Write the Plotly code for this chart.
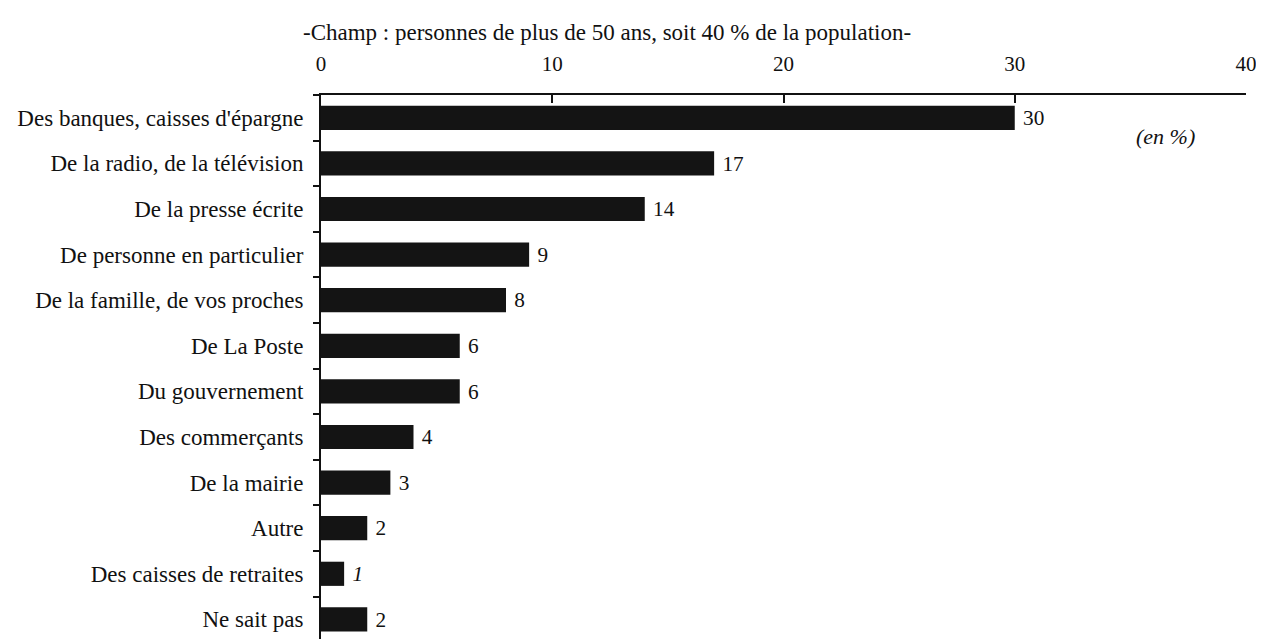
import plotly.graph_objects as go

categories = [
    "Des banques, caisses d'épargne",
    "De la radio, de la télévision",
    "De la presse écrite",
    "De personne en particulier",
    "De la famille, de vos proches",
    "De La Poste",
    "Du gouvernement",
    "Des commerçants",
    "De la mairie",
    "Autre",
    "Des caisses de retraites",
    "Ne sait pas",
]
values = [30, 17, 14, 9, 8, 6, 6, 4, 3, 2, 1, 2]
italic_labels = [False] * 10 + [True, False]
x_ticks = [0, 10, 20, 30, 40]

title_text = "-Champ : personnes de plus de 50 ans, soit 40 % de la population-"
unit_text = "(en %)"

texts = [("\u00a0<i>%d</i>" if it else "\u00a0%d") % v
         for v, it in zip(values, italic_labels)]

FONT = "Liberation Serif, Times New Roman, serif"

fig = go.Figure(go.Bar(
    x=values, y=categories, orientation="h",
    marker=dict(color="#141414", line=dict(width=0)),
    width=0.53,
    text=texts, textposition="outside", cliponaxis=False,
    textfont=dict(family=FONT, size=22, color="#111"),
))

fig.update_layout(
    width=1256, height=631,
    margin=dict(l=313, r=18, t=87, b=0, autoexpand=False),
    paper_bgcolor="white", plot_bgcolor="white",
    showlegend=False,
    font=dict(family=FONT, color="#111"),
    xaxis=dict(
        side="top", range=[0, 40], tickvals=x_ticks,
        showgrid=False, zeroline=False, automargin=False,
        showline=True, linecolor="#111", linewidth=2,
        ticks="inside", ticklen=8, tickwidth=2, tickcolor="#111",
        tickfont=dict(family=FONT, size=21, color="#111"),
        ticklabelstandoff=14,
    ),
    yaxis=dict(
        categoryorder="array", categoryarray=categories,
        autorange=False, range=[11.43, -0.5],
        showgrid=False, zeroline=False, automargin=False,
        showline=True, linecolor="#111", linewidth=2,
        ticks="outside", ticklen=6, tickwidth=2, tickcolor="#111",
        tickson="boundaries",
        tickfont=dict(family=FONT, size=23, color="#111"),
        ticklabelstandoff=11,
    ),
    annotations=[
        dict(text=title_text, xref="paper", yref="paper", x=-0.022, y=1.0,
             yshift=63, xanchor="left", yanchor="middle", showarrow=False,
             font=dict(family=FONT, size=23, color="#111")),
        dict(text=f"<i>{unit_text}</i>", xref="x", yref="y", x=36.5, y=0.4,
             xanchor="center", yanchor="middle", showarrow=False,
             font=dict(family=FONT, size=22, color="#111")),
    ],
)

fig.write_html("out.html")
